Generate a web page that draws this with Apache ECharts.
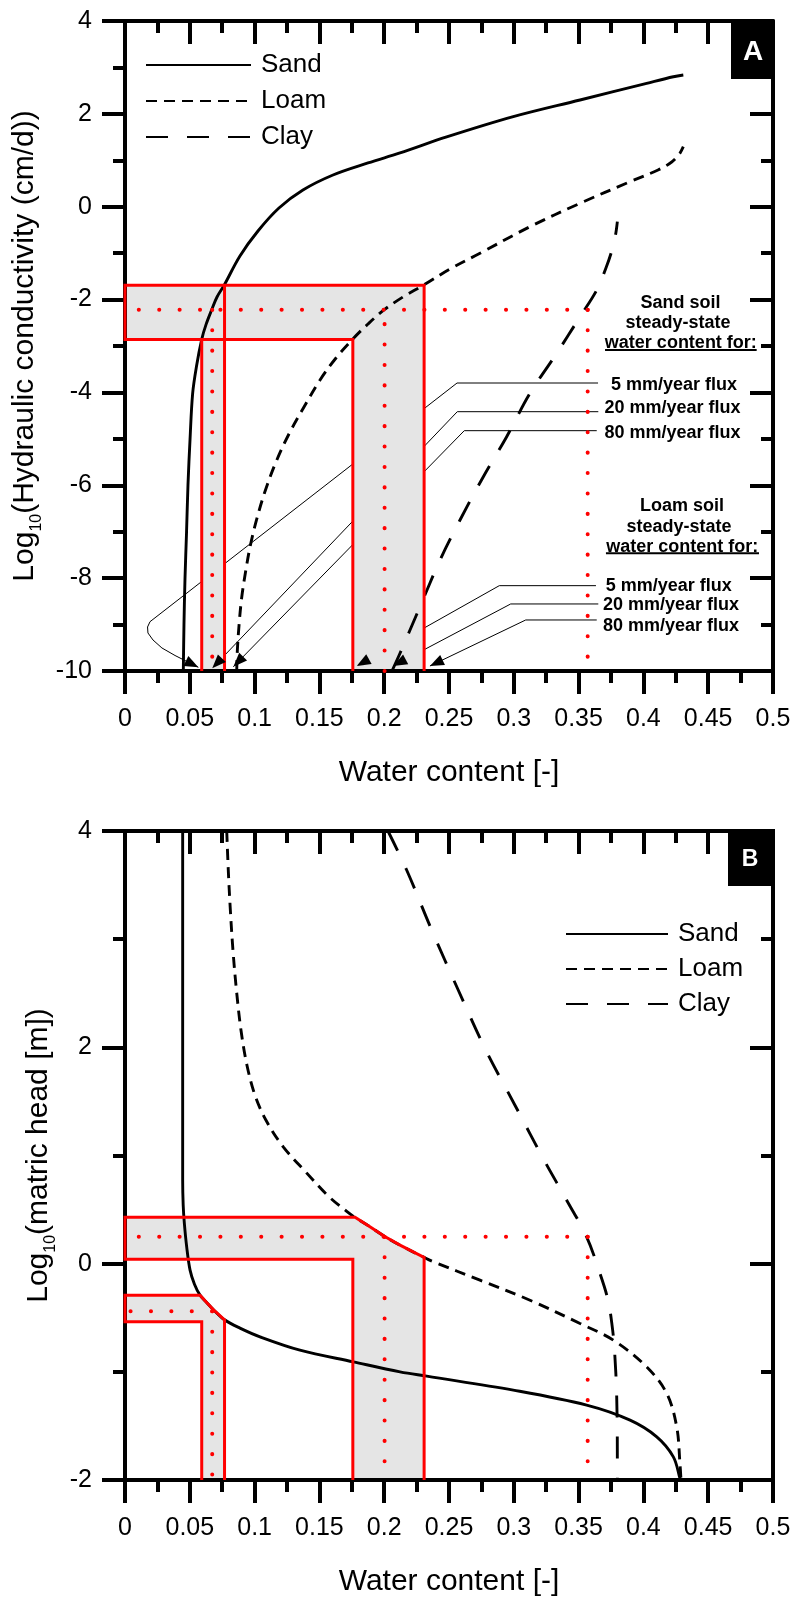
<!DOCTYPE html>
<html><head><meta charset="utf-8">
<script src="https://cdn.jsdelivr.net/npm/echarts@6/dist/echarts.min.js"></script>
<style>html,body{margin:0;padding:0;background:#fff}#c{width:795px;height:1600px}</style>
</head><body><div id="c"></div>
<script>
// ================= DATA =================
// Panel A : log10 hydraulic conductivity (cm/d) vs water content
const sandA = [[0.0450,-10],[0.0455,-9.01],[0.0463,-8.0],[0.0475,-7.0],[0.0486,-5.99],[0.0502,-5.0],[0.0522,-4.02],[0.0552,-3.43],
  [0.0592,-2.856],[0.0625,-2.54],[0.0669,-2.22],[0.0710,-1.944],[0.0766,-1.686],[0.0887,-1.061],[0.1026,-0.523],[0.1188,-0.028],
  [0.1373,0.360],[0.1605,0.683],[0.1875,0.942],[0.2122,1.157],[0.2482,1.502],[0.2996,1.939],[0.3511,2.298],[0.4025,2.658],[0.4231,2.80],[0.4308,2.837]];
const loamA = [[0.0862,-10],[0.0867,-9.548],[0.0880,-9.010],[0.0900,-8.427],[0.0930,-7.867],[0.0968,-7.286],[0.1019,-6.704],[0.1084,-6.101],
  [0.1165,-5.498],[0.1265,-4.895],[0.1381,-4.314],[0.1505,-3.732],[0.1628,-3.258],[0.1756,-2.855],[0.1875,-2.526],[0.1998,-2.224],
  [0.2145,-1.944],[0.2305,-1.686],[0.2508,-1.341],[0.2739,-1.003],[0.3125,-0.430],[0.3511,0.074],[0.3897,0.539],[0.4113,0.791],
  [0.4205,0.935],[0.4259,1.071],[0.4282,1.151],[0.4308,1.293]];
const clayA = [[0.2060,-10],[0.2122,-9.618],[0.2276,-8.615],[0.2431,-7.609],[0.2585,-6.747],[0.2765,-5.815],[0.2945,-4.953],[0.3125,-4.018],
  [0.3331,-3.157],[0.3511,-2.369],[0.3640,-1.794],[0.3711,-1.320],[0.3758,-0.932],[0.3785,-0.609],[0.3799,-0.323]];
// Panel B : log10 matric head (m) vs water content
const sandB = [[0.0445,4],[0.0445,0.772],[0.0449,0.541],[0.0458,0.372],[0.0476,0.155],[0.0502,-0.060],[0.0536,-0.190],[0.0579,-0.291],
  [0.0630,-0.359],[0.0681,-0.424],[0.0768,-0.519],[0.0887,-0.596],[0.1042,-0.677],[0.1350,-0.800],[0.1762,-0.908],[0.2122,-1.000],
  [0.2328,-1.040],[0.2996,-1.169],[0.3562,-1.308],[0.3897,-1.447],[0.4103,-1.601],[0.4231,-1.786],[0.4282,-1.985],[0.4285,-2]];
const loamB = [[0.0785,4],[0.0797,3.637],[0.0813,3.267],[0.0833,2.898],[0.0860,2.528],[0.0895,2.158],[0.0941,1.835],[0.1003,1.557],
  [0.1088,1.326],[0.1221,1.080],[0.1389,0.855],[0.1566,0.628],[0.1711,0.483],[0.1775,0.427],[0.1890,0.342],[0.2001,0.254],
  [0.2122,0.171],[0.2308,0.058],[0.2379,0.018],[0.2739,-0.153],[0.3125,-0.338],[0.3511,-0.553],[0.3768,-0.707],[0.4025,-0.954],
  [0.4180,-1.200],[0.4257,-1.508],[0.4282,-1.847],[0.4290,-2]];
const clayB = [[0.2029,4],[0.2174,3.637],[0.2367,3.083],[0.2572,2.528],[0.2778,1.989],[0.3009,1.465],[0.3241,0.941],[0.3408,0.587],
  [0.3562,0.248],[0.3665,-0.091],[0.3727,-0.337],[0.3758,-0.568],[0.3777,-0.799],[0.3794,-1.231],[0.3799,-1.847],[0.3799,-2]];

// steady-state values for 5, 20, 80 mm/year flux
const thetaSand = [0.0592, 0.0673, 0.0768];
const thetaLoam = [0.1758, 0.2003, 0.2308];
const thetaClay20 = 0.357;
const logK = [-2.86, -2.22, -1.69];
const headSandB = [-0.538, -0.44, -0.291];
const headLoamB = [0.04, 0.248, 0.43];
// parts of the retention curves bounding the shaded bands in B
const sandEdgeB = [[0.0579,-0.291],[0.0630,-0.359],[0.0681,-0.424],[0.0768,-0.519]];
const loamEdgeB = [[0.1775,0.43],[0.1890,0.342],[0.2001,0.254],[0.2122,0.171],[0.2308,0.058]];

// annotation leader lines (panel A), last point = arrow tip
const leadersA = [
  [[0.3650,-3.797],[0.2562,-3.797],[0.0193,-8.938],[0.0174,-9.052],[0.0177,-9.181],[0.0216,-9.332],[0.0285,-9.504],[0.0386,-9.666],[0.0566,-9.92]],
  [[0.3652,-4.415],[0.2564,-4.415],[0.0673,-9.942]],
  [[0.3640,-4.824],[0.2618,-4.824],[0.0836,-9.907]],
  [[0.3634,-8.162],[0.2888,-8.162],[0.1788,-9.892]],
  [[0.3652,-8.556],[0.2976,-8.556],[0.2070,-9.892]],
  [[0.3640,-8.901],[0.3092,-8.901],[0.2353,-9.892]]
];
const underlinesA = [[[0.3704,-3.086],[0.4874,-3.086]],[[0.3711,-7.465],[0.4892,-7.465]]];
const annoLabels = ['Sand soil','steady-state','water content for:','5 mm/year flux','20 mm/year flux','80 mm/year flux',
                    'Loam soil','steady-state','water content for:','5 mm/year flux','20 mm/year flux','80 mm/year flux'];
const annoPos = [[0.4286,-2.07],[0.4267,-2.51],[0.4289,-2.93],[0.4236,-3.84],[0.4225,-4.33],[0.4225,-4.87],
                 [0.4298,-6.446],[0.4275,-6.89],[0.4300,-7.32],[0.4196,-8.17],[0.4213,-8.58],[0.4213,-9.03]];
const seriesNames = ['Sand','Loam','Clay'];

// ================= DERIVED SHAPES =================
const yMinA = -10, yMinB = -2;
const bandA = [[thetaLoam[2],yMinA],[thetaLoam[2],logK[2]],[0,logK[2]],[0,logK[0]],[thetaSand[0],logK[0]],[thetaSand[0],yMinA],
               [thetaSand[2],yMinA],[thetaSand[2],logK[0]],[thetaLoam[0],logK[0]],[thetaLoam[0],yMinA]];
const redA = [
  [[thetaLoam[2],yMinA],[thetaLoam[2],logK[2]],[0,logK[2]],[0,logK[0]],[thetaLoam[0],logK[0]],[thetaLoam[0],yMinA]],
  [[thetaSand[0],logK[0]],[thetaSand[0],yMinA]],
  [[thetaSand[2],logK[2]],[thetaSand[2],yMinA]]
];
const dotA = [
  [[thetaClay20,logK[1]],[0,logK[1]]],
  [[thetaSand[1],logK[1]],[thetaSand[1],yMinA]],
  [[thetaLoam[1],yMinA],[thetaLoam[1],logK[1]]],
  [[thetaClay20,logK[1]],[thetaClay20,yMinA]]
];
const sandBandB = [[thetaSand[2],yMinB]].concat(sandEdgeB.slice().reverse(),
  [[0,headSandB[2]],[0,headSandB[0]],[thetaSand[0],headSandB[0]],[thetaSand[0],yMinB]]);
const loamBandB = [[thetaLoam[2],yMinB]].concat(loamEdgeB.slice().reverse(),
  [[0,headLoamB[2]],[0,headLoamB[0]],[thetaLoam[0],headLoamB[0]],[thetaLoam[0],yMinB]]);
const dotB = [
  [[thetaClay20,headLoamB[1]],[0,headLoamB[1]]],
  [[thetaLoam[1],headLoamB[1]],[thetaLoam[1],yMinB]],
  [[thetaClay20,headLoamB[1]],[thetaClay20,yMinB]],
  [[thetaSand[1],headSandB[1]],[0,headSandB[1]]],
  [[thetaSand[1],headSandB[1]],[thetaSand[1],yMinB]]
];

// ================= CHART =================
const FONT = '"Liberation Sans", Arial, sans-serif';
const BLACK = '#000';
const RED = '#ff0000';

function shapeSeries(gi, items, kind, style, z) {
  return {
    type: 'custom', xAxisIndex: gi * 2, yAxisIndex: gi * 2, z: z, silent: true, animation: false,
    data: items.map(p => p[0]),
    renderItem: function (params, api) {
      const pts = items[params.dataIndex].map(p => api.coord(p));
      return { type: kind, shape: { points: pts }, style: Object.assign({}, style) };
    }
  };
}
function arrowSeries(gi, items, z) {
  return {
    type: 'custom', xAxisIndex: gi * 2, yAxisIndex: gi * 2, z: z, silent: true, animation: false,
    data: items.map(p => p[p.length - 1]),
    renderItem: function (params, api) {
      const it = items[params.dataIndex];
      const tip = api.coord(it[it.length - 1]);
      const prev = api.coord(it[it.length - 2]);
      const a = Math.atan2(tip[1] - prev[1], tip[0] - prev[0]);
      const L = 14, W = 5.5;
      const bx = tip[0] - L * Math.cos(a), by = tip[1] - L * Math.sin(a);
      return { type: 'polygon', shape: { points: [tip, [bx + W * Math.sin(a), by - W * Math.cos(a)], [bx - W * Math.sin(a), by + W * Math.cos(a)]] },
               style: { fill: BLACK } };
    }
  };
}
function textSeries(gi, pos, labels, z) {
  return {
    type: 'custom', xAxisIndex: gi * 2, yAxisIndex: gi * 2, z: z, silent: true, animation: false,
    data: pos,
    renderItem: function (params, api) {
      const c = api.coord(pos[params.dataIndex]);
      return { type: 'text', x: c[0], y: c[1],
               style: { text: labels[params.dataIndex], fill: BLACK, font: 'bold 18px ' + FONT, align: 'center', verticalAlign: 'middle' } };
    }
  };
}
function lineSeries(name, gi, data, type) {
  return { type: 'line', name: name, xAxisIndex: gi * 2, yAxisIndex: gi * 2, data: data, symbol: 'none', showSymbol: false,
           smooth: 0.35, z: 3, animation: false, silent: true,
           itemStyle: { color: BLACK },
           lineStyle: { color: BLACK, width: 2.9, type: type } };
}

const tickLine = { color: BLACK, width: 4 };
function xAxisDef(gi, pos) {
  const main = pos === 'bottom';
  return {
    type: 'value', gridIndex: gi, position: pos, min: 0, max: 0.5, interval: 0.05, z: 3,
    axisLine: { show: true, onZero: false, lineStyle: tickLine },
    axisTick: { show: true, inside: !main, length: 23, lineStyle: tickLine },
    minorTick: { show: true, splitNumber: 2, length: 12, lineStyle: tickLine },
    splitLine: { show: false }, minorSplitLine: { show: false },
    axisLabel: { show: main, fontSize: 25, color: BLACK, fontFamily: FONT, margin: 36 },
    name: main ? 'Water content [-]' : '', nameLocation: 'middle', nameGap: 87,
    nameTextStyle: { fontSize: 30, color: BLACK, fontFamily: FONT }
  };
}
function yAxisDef(gi, pos, min, name, gap) {
  const main = pos === 'left';
  return {
    type: 'value', gridIndex: gi, position: pos, min: min, max: 4, interval: 2, z: 3,
    axisLine: { show: true, onZero: false, lineStyle: tickLine },
    axisTick: { show: true, inside: !main, length: 23, lineStyle: tickLine },
    minorTick: { show: true, splitNumber: 2, length: 12, lineStyle: tickLine },
    splitLine: { show: false }, minorSplitLine: { show: false },
    axisLabel: { show: main, fontSize: 25, color: BLACK, fontFamily: FONT, margin: 33 },
    name: main ? name : '', nameLocation: 'middle', nameGap: gap, nameRotate: 90,
    nameTextStyle: { color: BLACK, fontFamily: FONT, fontSize: 30,
      rich: { a: { fontSize: 30, lineHeight: 40, verticalAlign: 'middle', fontFamily: FONT, color: BLACK },
              s: { fontSize: 16, lineHeight: 16, verticalAlign: 'bottom', fontFamily: FONT, color: BLACK } } }
  };
}
const legendBase = { data: seriesNames, orient: 'vertical', padding: 0, itemHeight: 14, selectedMode: false,
  itemStyle: { opacity: 0 }, textStyle: { fontSize: 26, color: BLACK, fontFamily: FONT, padding: [0, 0, 0, 5] } };

const chart = echarts.init(document.getElementById('c'), null, { renderer: 'canvas' });
chart.setOption({
  animation: false,
  backgroundColor: '#fff',
  grid: [
    { left: 125, top: 21, width: 648, height: 650 },
    { left: 125, top: 831, width: 648, height: 649 }
  ],
  xAxis: [xAxisDef(0, 'bottom'), xAxisDef(0, 'top'), xAxisDef(1, 'bottom'), xAxisDef(1, 'top')],
  yAxis: [
    yAxisDef(0, 'left', -10, '{a|Log}{s|10}{a|(Hydraulic conductivity (cm/d))}', 77),
    yAxisDef(0, 'right', -10, '', 0),
    yAxisDef(1, 'left', -2, '{a|Log}{s|10}{a|(matric head [m])}', 58),
    yAxisDef(1, 'right', -2, '', 0)
  ],
  legend: [
    Object.assign({}, legendBase, { left: 145, top: 52, itemWidth: 105, itemGap: 10 }),
    Object.assign({}, legendBase, { left: 565, top: 921, itemWidth: 102, itemGap: 9 })
  ],
  graphic: [
    { type: 'rect', shape: { x: 731, y: 21, width: 44, height: 58 }, style: { fill: BLACK }, z: 100 },
    { type: 'text', x: 753, y: 52, style: { text: 'A', fill: '#fff', font: 'bold 28px ' + FONT, align: 'center', verticalAlign: 'middle' }, z: 101 },
    { type: 'rect', shape: { x: 728, y: 829, width: 47, height: 57 }, style: { fill: BLACK }, z: 100 },
    { type: 'text', x: 750, y: 860, style: { text: 'B', fill: '#fff', font: 'bold 23px ' + FONT, align: 'center', verticalAlign: 'middle' }, z: 101 }
  ],
  series: [
    // panel A
    shapeSeries(0, leadersA, 'polyline', { stroke: BLACK, lineWidth: 1, fill: 'none' }, 1),
    shapeSeries(0, [bandA], 'polygon', { fill: '#e5e5e5', stroke: 'none' }, 2),
    lineSeries('Sand', 0, sandA, 'solid'),
    lineSeries('Loam', 0, loamA, [11, 7]),
    lineSeries('Clay', 0, clayA, [22, 19]),
    shapeSeries(0, redA, 'polyline', { stroke: RED, lineWidth: 3, fill: 'none' }, 4),
    shapeSeries(0, dotA, 'polyline', { stroke: RED, lineWidth: 4, fill: 'none', lineDash: [0.1, 20.3], lineCap: 'round' }, 4),
    arrowSeries(0, leadersA, 5),
    shapeSeries(0, underlinesA, 'polyline', { stroke: BLACK, lineWidth: 2, fill: 'none' }, 5),
    textSeries(0, annoPos, annoLabels, 5),
    // panel B
    shapeSeries(1, [loamBandB, sandBandB], 'polygon', { fill: '#e5e5e5', stroke: 'none' }, 2),
    lineSeries('Sand', 1, sandB, 'solid'),
    lineSeries('Loam', 1, loamB, [11, 7]),
    lineSeries('Clay', 1, clayB, [22, 19]),
    shapeSeries(1, [loamBandB, sandBandB], 'polyline', { stroke: RED, lineWidth: 3, fill: 'none' }, 4),
    shapeSeries(1, dotB, 'polyline', { stroke: RED, lineWidth: 4, fill: 'none', lineDash: [0.1, 20.3], lineCap: 'round' }, 4)
  ]
});
</script>
</body></html>
